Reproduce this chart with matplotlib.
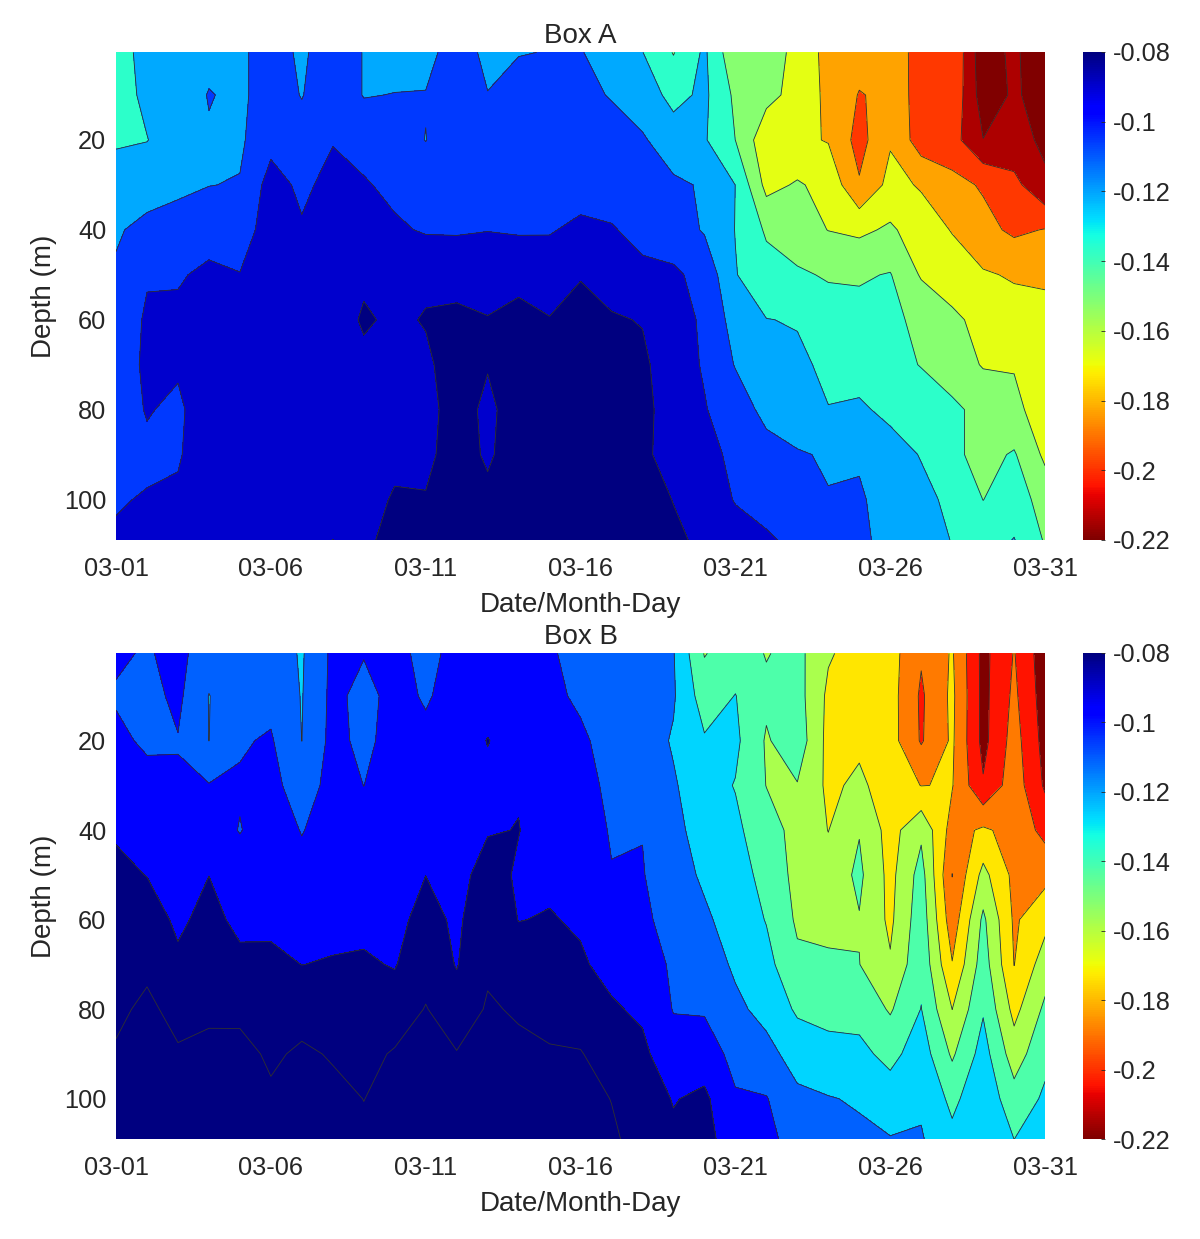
import numpy as np
import matplotlib
matplotlib.use('Agg')
import matplotlib.pyplot as plt
from matplotlib import colors, cm

plt.rcParams['font.family'] = ['Liberation Sans', 'DejaVu Sans']
plt.rcParams['contour.negative_linestyle'] = 'solid'

# grid: days of March and model depths (m)
days = np.arange(1, 32)
depths = [0.5, 10, 20, 30, 40, 50, 60, 70, 80, 90, 100, 110]
day_ticks = [1, 6, 11, 16, 21, 26, 31]
day_labels = ['03-01', '03-06', '03-11', '03-16', '03-21', '03-26', '03-31']
cbar_ticks = [-0.22, -0.2, -0.18, -0.16, -0.14, -0.12, -0.1, -0.08]
cbar_labels = ['-0.22', '-0.2', '-0.18', '-0.16', '-0.14', '-0.12', '-0.1', '-0.08']

# Box A, one list per depth, values for day 1..31
a_00 = [-0.1287, -0.1147, -0.1147, -0.1100, -0.1085, -0.0976, -0.1085, -0.0945, -0.1061, -0.1116, -0.1116, -0.0960, -0.1100, -0.1061, -0.1049, -0.1046, -0.1124, -0.1206, -0.1373, -0.1183, -0.1490, -0.1490, -0.1538, -0.1742, -0.1770, -0.1801, -0.1854, -0.1840, -0.2250, -0.2099, -0.2331]
a_10 = [-0.1272, -0.1178, -0.1147, -0.1046, -0.1085, -0.0976, -0.1061, -0.0945, -0.1061, -0.1050, -0.1046, -0.0976, -0.1049, -0.0991, -0.1007, -0.1030, -0.1060, -0.1127, -0.1256, -0.1178, -0.1396, -0.1474, -0.1574, -0.1714, -0.1840, -0.1801, -0.1853, -0.1864, -0.2222, -0.2124, -0.2207]
a_20 = [-0.1225, -0.1213, -0.1132, -0.1069, -0.1077, -0.0945, -0.0991, -0.0906, -0.0960, -0.0991, -0.1057, -0.0960, -0.0991, -0.0968, -0.0976, -0.0991, -0.1015, -0.1038, -0.1132, -0.1194, -0.1366, -0.1630, -0.1646, -0.1686, -0.1887, -0.1692, -0.1911, -0.1926, -0.2141, -0.2097, -0.2169]
a_30 = [-0.1147, -0.1116, -0.1077, -0.1057, -0.1046, -0.0836, -0.0929, -0.0851, -0.0882, -0.0937, -0.0976, -0.0937, -0.0952, -0.0945, -0.0945, -0.0945, -0.0945, -0.0991, -0.1030, -0.1068, -0.1210, -0.1568, -0.1505, -0.1568, -0.1817, -0.1630, -0.1692, -0.1786, -0.1848, -0.1942, -0.2121]
a_40 = [-0.1069, -0.1015, -0.1007, -0.0960, -0.0976, -0.0820, -0.0882, -0.0836, -0.0836, -0.0874, -0.0913, -0.0909, -0.0901, -0.0913, -0.0906, -0.0874, -0.0890, -0.0929, -0.0976, -0.1068, -0.1213, -0.1386, -0.1459, -0.1524, -0.1552, -0.1498, -0.1599, -0.1685, -0.1786, -0.1861, -0.1825]
a_50 = [-0.1038, -0.0913, -0.0913, -0.0867, -0.0893, -0.0820, -0.0851, -0.0820, -0.0765, -0.0820, -0.0765, -0.0820, -0.0820, -0.0789, -0.0836, -0.0750, -0.0812, -0.0874, -0.0874, -0.0945, -0.1202, -0.1303, -0.1342, -0.1381, -0.1381, -0.1357, -0.1537, -0.1599, -0.1661, -0.1692, -0.1708]
a_60 = [-0.1015, -0.0874, -0.0867, -0.0836, -0.0851, -0.0820, -0.0836, -0.0812, -0.0726, -0.0765, -0.0734, -0.0695, -0.0734, -0.0695, -0.0734, -0.0695, -0.0726, -0.0750, -0.0836, -0.0921, -0.1119, -0.1206, -0.1217, -0.1287, -0.1318, -0.1342, -0.1390, -0.1490, -0.1568, -0.1615, -0.1615]
a_70 = [-0.0991, -0.0867, -0.0882, -0.0820, -0.0836, -0.0820, -0.0828, -0.0804, -0.0773, -0.0773, -0.0765, -0.0680, -0.0734, -0.0680, -0.0695, -0.0680, -0.0687, -0.0711, -0.0836, -0.0910, -0.1063, -0.1132, -0.1186, -0.1233, -0.1272, -0.1318, -0.1371, -0.1443, -0.1532, -0.1529, -0.1568]
a_80 = [-0.0960, -0.0890, -0.0921, -0.0820, -0.0828, -0.0812, -0.0820, -0.0797, -0.0789, -0.0773, -0.0789, -0.0680, -0.0773, -0.0672, -0.0680, -0.0672, -0.0680, -0.0695, -0.0820, -0.0890, -0.0968, -0.1102, -0.1163, -0.1206, -0.1186, -0.1245, -0.1287, -0.1334, -0.1412, -0.1490, -0.1583]
a_90 = [-0.0937, -0.0921, -0.0913, -0.0804, -0.0820, -0.0804, -0.0804, -0.0789, -0.0789, -0.0761, -0.0773, -0.0680, -0.0761, -0.0672, -0.0672, -0.0672, -0.0680, -0.0719, -0.0789, -0.0874, -0.0915, -0.0991, -0.1038, -0.1072, -0.1069, -0.1147, -0.1217, -0.1334, -0.1412, -0.1350, -0.1552]
a_100 = [-0.0907, -0.0890, -0.0874, -0.0797, -0.0812, -0.0789, -0.0781, -0.0765, -0.0773, -0.0734, -0.0734, -0.0680, -0.0711, -0.0672, -0.0672, -0.0672, -0.0680, -0.0695, -0.0745, -0.0820, -0.0906, -0.0929, -0.0976, -0.1046, -0.1038, -0.1108, -0.1170, -0.1241, -0.1367, -0.1287, -0.1428]
a_110 = [-0.0882, -0.0874, -0.0851, -0.0789, -0.0804, -0.0773, -0.0758, -0.0739, -0.0758, -0.0711, -0.0711, -0.0680, -0.0695, -0.0672, -0.0672, -0.0672, -0.0680, -0.0687, -0.0719, -0.0762, -0.0836, -0.0882, -0.0913, -0.0976, -0.1038, -0.1077, -0.1147, -0.1211, -0.1272, -0.1194, -0.1373]

# Box B
b_00 = [-0.0930, -0.0969, -0.0907, -0.1047, -0.1032, -0.1032, -0.1125, -0.0922, -0.0946, -0.0907, -0.1000, -0.0907, -0.0891, -0.0907, -0.0938, -0.1000, -0.1032, -0.1063, -0.1102, -0.1429, -0.1343, -0.1429, -0.1374, -0.1561, -0.1639, -0.1670, -0.1873, -0.1717, -0.2091, -0.1881, -0.2138]
b_10 = [-0.0969, -0.1000, -0.0922, -0.1114, -0.1016, -0.1000, -0.1117, -0.0915, -0.1000, -0.0907, -0.0969, -0.0899, -0.0860, -0.0891, -0.0922, -0.0977, -0.1024, -0.1047, -0.1094, -0.1343, -0.1262, -0.1390, -0.1359, -0.1608, -0.1639, -0.1670, -0.1912, -0.1701, -0.2091, -0.1857, -0.2122]
b_20 = [-0.0922, -0.0977, -0.0961, -0.1111, -0.0969, -0.0938, -0.1111, -0.0907, -0.0993, -0.0891, -0.0922, -0.0884, -0.0793, -0.0860, -0.0899, -0.0930, -0.1008, -0.1032, -0.1125, -0.1250, -0.1234, -0.1437, -0.1328, -0.1624, -0.1608, -0.1670, -0.1904, -0.1709, -0.2091, -0.1826, -0.2100]
b_30 = [-0.0876, -0.0907, -0.0938, -0.0946, -0.0938, -0.0907, -0.1032, -0.0899, -0.0955, -0.0884, -0.0876, -0.0868, -0.0829, -0.0806, -0.0876, -0.0891, -0.0993, -0.1000, -0.1094, -0.1203, -0.1273, -0.1424, -0.1429, -0.1608, -0.1546, -0.1655, -0.1736, -0.1725, -0.2029, -0.1803, -0.2068]
b_40 = [-0.0813, -0.0852, -0.0884, -0.0876, -0.0961, -0.0876, -0.0961, -0.0884, -0.0899, -0.0876, -0.0837, -0.0852, -0.0806, -0.0795, -0.0852, -0.0860, -0.0969, -0.0958, -0.1070, -0.1172, -0.1234, -0.1359, -0.1468, -0.1580, -0.1429, -0.1639, -0.1452, -0.1795, -0.1709, -0.1787, -0.1935]
b_50 = [-0.0767, -0.0801, -0.0845, -0.0799, -0.0876, -0.0852, -0.0907, -0.0860, -0.0868, -0.0860, -0.0799, -0.0837, -0.0751, -0.0813, -0.0821, -0.0837, -0.0946, -0.0946, -0.1047, -0.1133, -0.1203, -0.1312, -0.1468, -0.1515, -0.1390, -0.1624, -0.1359, -0.1892, -0.1530, -0.1772, -0.1779]
b_60 = [-0.0736, -0.0736, -0.0821, -0.0759, -0.0829, -0.0821, -0.0852, -0.0829, -0.0829, -0.0837, -0.0751, -0.0821, -0.0704, -0.0801, -0.0790, -0.0813, -0.0891, -0.0922, -0.1016, -0.1086, -0.1172, -0.1273, -0.1444, -0.1460, -0.1429, -0.1608, -0.1328, -0.1826, -0.1390, -0.1756, -0.1624]
b_70 = [-0.0704, -0.0673, -0.0774, -0.0720, -0.0767, -0.0774, -0.0799, -0.0790, -0.0782, -0.0806, -0.0704, -0.0806, -0.0665, -0.0736, -0.0751, -0.0782, -0.0837, -0.0852, -0.0985, -0.1032, -0.1133, -0.1218, -0.1390, -0.1398, -0.1418, -0.1561, -0.1304, -0.1725, -0.1343, -0.1736, -0.1499]
b_80 = [-0.0673, -0.0611, -0.0689, -0.0665, -0.0689, -0.0736, -0.0720, -0.0728, -0.0736, -0.0736, -0.0634, -0.0736, -0.0626, -0.0658, -0.0697, -0.0712, -0.0782, -0.0821, -0.0961, -0.0969, -0.1078, -0.1156, -0.1289, -0.1312, -0.1320, -0.1437, -0.1262, -0.1578, -0.1281, -0.1624, -0.1390]
b_90 = [-0.0626, -0.0595, -0.0626, -0.0611, -0.0580, -0.0673, -0.0611, -0.0658, -0.0689, -0.0626, -0.0595, -0.0634, -0.0595, -0.0611, -0.0626, -0.0634, -0.0712, -0.0767, -0.0891, -0.0876, -0.1000, -0.1063, -0.1172, -0.1218, -0.1226, -0.1312, -0.1187, -0.1444, -0.1203, -0.1499, -0.1304]
b_100 = [-0.0595, -0.0587, -0.0595, -0.0595, -0.0564, -0.0611, -0.0580, -0.0595, -0.0644, -0.0595, -0.0580, -0.0595, -0.0580, -0.0587, -0.0595, -0.0595, -0.0645, -0.0720, -0.0806, -0.0767, -0.0938, -0.0946, -0.1078, -0.1102, -0.1125, -0.1187, -0.1133, -0.1304, -0.1156, -0.1359, -0.1242]
b_110 = [-0.0580, -0.0580, -0.0587, -0.0587, -0.0564, -0.0580, -0.0564, -0.0572, -0.0611, -0.0580, -0.0572, -0.0580, -0.0572, -0.0572, -0.0580, -0.0580, -0.0619, -0.0689, -0.0767, -0.0736, -0.0891, -0.0907, -0.1016, -0.1063, -0.1078, -0.1094, -0.1094, -0.1218, -0.1125, -0.1257, -0.1203]

box_a = np.array([a_00, a_10, a_20, a_30, a_40, a_50, a_60, a_70, a_80, a_90, a_100, a_110])
box_b = np.array([b_00, b_10, b_20, b_30, b_40, b_50, b_60, b_70, b_80, b_90, b_100, b_110])

# contour levels (evenly spaced, as matlab picked them for each box)
levels_a = [-0.2144, -0.1988, -0.1832, -0.1677, -0.1521, -0.1365, -0.1209, -0.1054, -0.0898, -0.0742]
levels_b = [-0.2200, -0.2045, -0.1889, -0.1733, -0.1577, -0.1421, -0.1266, -0.1110, -0.0954, -0.0798, -0.0642]

cmap = plt.get_cmap('jet_r')
norm = colors.Normalize(vmin=-0.22, vmax=-0.08, clip=True)

fig = plt.figure(figsize=(12, 12.39), dpi=100)

panels = [
    ('Box A', box_a, levels_a, [0.0967, 0.5642, 0.7742, 0.3939]),
    ('Box B', box_b, levels_b, [0.0967, 0.0807, 0.7742, 0.3923]),
]

txt = '#262626'
for title, data, lv, pos in panels:
    ax = fig.add_axes(pos)
    bounds = [-1.0] + lv + [1.0]
    # matlab fills each band with the colour of its lower level
    fills = [cmap(norm(b)) for b in bounds[:-1]]
    ax.contourf(days, depths, data, levels=bounds, colors=fills)
    ax.contour(days, depths, data, levels=lv, colors='#303030', linewidths=0.6)

    ax.set_xlim(1, 31)
    ax.set_ylim(109, 0.4)
    ax.set_xticks(day_ticks)
    ax.set_xticklabels(day_labels)
    ax.set_yticks([20, 40, 60, 80, 100])
    ax.tick_params(axis='x', length=0, pad=12, labelsize=18.3, colors=txt)
    ax.tick_params(axis='y', length=0, pad=7, labelsize=18.3, colors=txt)
    for s in ax.spines.values():
        s.set_visible(False)
    ax.set_title(title, fontsize=20, color=txt, pad=6.5)
    ax.set_xlabel('Date/Month-Day', fontsize=20, color=txt, labelpad=8)
    ax.set_ylabel('Depth (m)', fontsize=20, color=txt, labelpad=5)

    cax = fig.add_axes([0.9025, pos[1], 0.0183, pos[3]])
    sm = cm.ScalarMappable(norm=colors.Normalize(vmin=-0.22, vmax=-0.08), cmap=cmap)
    cb = fig.colorbar(sm, cax=cax)
    cb.set_ticks(cbar_ticks)
    cb.set_ticklabels(cbar_labels)
    cb.outline.set_visible(False)
    cax.tick_params(length=3, width=0.6, direction='in', pad=6, labelsize=18.3, colors=txt)

plt.savefig('out.png', dpi=100)
